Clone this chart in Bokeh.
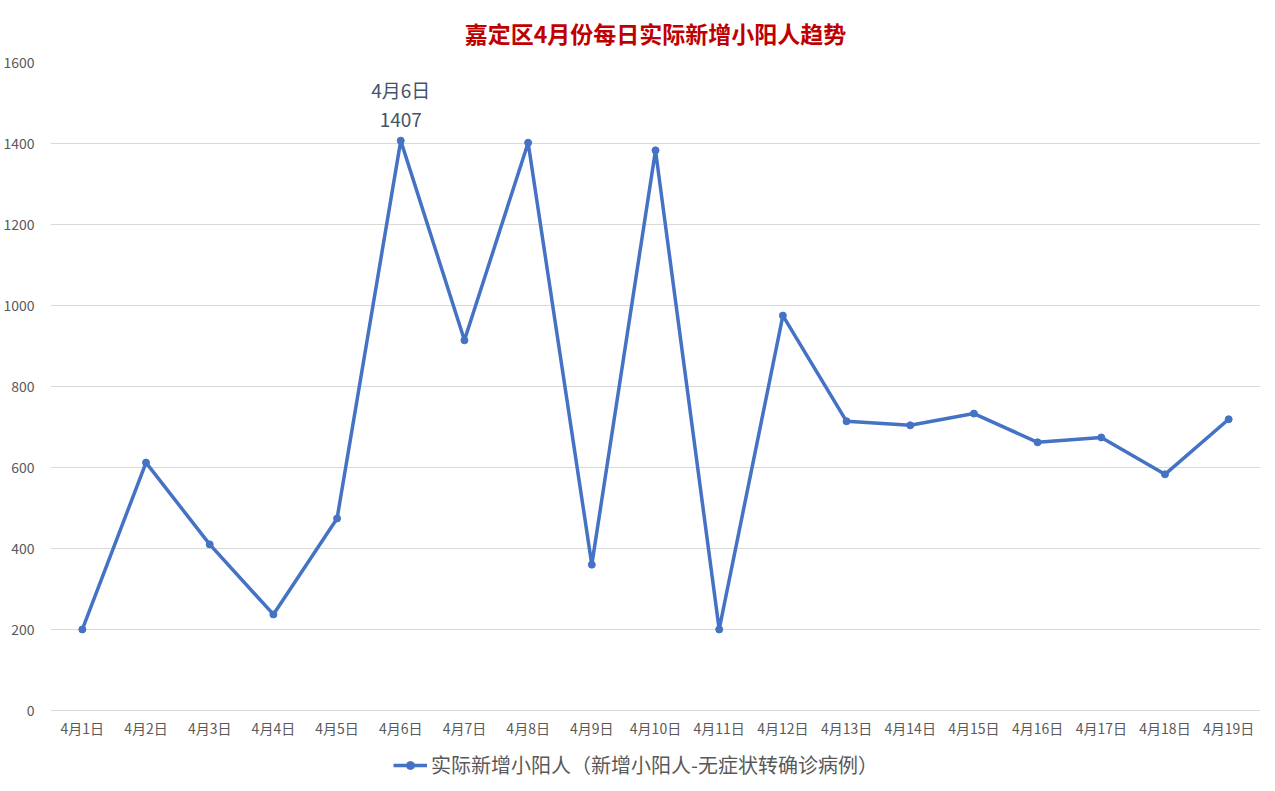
from bokeh.plotting import figure
from bokeh.models import ColumnDataSource, Legend, LegendItem, SingleIntervalTicker
from bokeh.embed import file_html
from bokeh.resources import INLINE
from bokeh.core.properties import value

dates = ["4月1日", "4月2日", "4月3日", "4月4日", "4月5日", "4月6日", "4月7日", "4月8日",
         "4月9日", "4月10日", "4月11日", "4月12日", "4月13日", "4月14日", "4月15日",
         "4月16日", "4月17日", "4月18日", "4月19日"]
cases = [200, 612, 410, 237, 474, 1407, 914, 1402, 360, 1383, 200, 975, 714, 704,
         733, 662, 674, 583, 719]
series_name = "实际新增小阳人（新增小阳人-无症状转确诊病例）"
title_text = "嘉定区4月份每日实际新增小阳人趋势"
peak_date = "4月6日"
peak_value = 1407

FONT = "Noto Sans CJK SC"

p = figure(x_range=dates, y_range=(-178, 1600), frame_width=1210, frame_height=720,
           x_axis_location=None,
           output_backend="svg", toolbar_location=None,
           min_border_left=42, min_border_right=7, min_border_top=62, min_border_bottom=0)
p.x_range.range_padding = 0

p.title.text = title_text
p.title.align = "center"
p.title.offset = -18
p.title.text_color = "#C00000"
p.title.text_font = FONT
p.title.text_font_size = "23px"
p.title.text_font_style = "bold"
p.title.standoff = 26

src = ColumnDataSource(dict(x=dates, y=cases))
ln = p.line("x", "y", source=src, line_color="#4472C4", line_width=3.5)
sc = p.scatter("x", "y", source=src, size=7, fill_color="#4472C4", line_color="#4472C4")

# category (x-axis) labels drawn at y = 0
p.text(x=dates, y=[0] * len(dates), text=dates, text_align="center",
       text_baseline="middle", y_offset=18, text_font=value(FONT), text_font_size="14px",
       text_color="#595959")

p.text(x=[peak_date], y=[peak_value], text=[str(peak_value)], text_align="center",
       text_baseline="middle", y_offset=-21, text_font=value(FONT), text_font_size="19px",
       text_color="#44546A")
p.text(x=[peak_date], y=[peak_value], text=[peak_date], text_align="center",
       text_baseline="middle", y_offset=-51, text_font=value(FONT), text_font_size="19px",
       text_color="#44546A")

p.yaxis.ticker = SingleIntervalTicker(interval=200)
ax = p.yaxis[0]
ax.axis_line_color = None
ax.major_tick_line_color = None
ax.minor_tick_line_color = None
ax.major_label_text_color = "#595959"
ax.major_label_text_font = FONT
ax.major_label_text_font_size = "14px"
ax.major_label_standoff = 10

for g in p.grid:
    if g.dimension == 0:
        g.grid_line_color = None
    else:
        g.grid_line_color = "#D9D9D9"
        g.grid_line_width = 1
p.outline_line_color = None

legend = Legend(items=[LegendItem(label=series_name, renderers=[ln, sc])],
                location=(343, 3), orientation="horizontal",
                label_text_font=FONT, label_text_font_size="20px",
                label_text_color="#595959", border_line_color=None,
                background_fill_alpha=0,
                glyph_width=34, label_standoff=4, margin=0, padding=2)
p.add_layout(legend, "center")

open("out.html", "w").write(file_html(p, INLINE))
